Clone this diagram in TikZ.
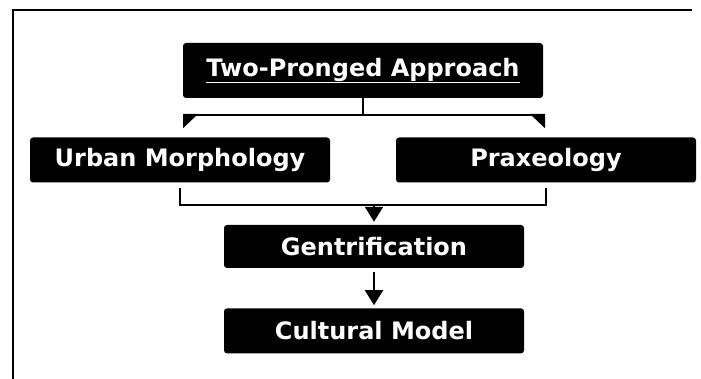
\documentclass[tikz,border=0pt]{standalone}
\usepackage{fontspec}
\setmainfont{DejaVu Sans}
\usepackage{tikz}
\usetikzlibrary{positioning,arrows.meta,calc}

\begin{document}
\begin{tikzpicture}[
  x=1pt, y=-1pt, node distance=40pt,
  font=\bfseries\fontsize{24}{28}\selectfont,
  box/.style={fill=black, text=white, rounded corners=3pt,
              minimum width=300pt, minimum height=45pt, inner sep=0pt},
  link/.style={line width=2pt, color=black},
  arr/.style={link, -{Triangle[width=18pt,length=15pt]}},
  fork/.style={link, {Triangle[reversed,harpoon,width=26pt,length=14pt]}-{Triangle[reversed,harpoon,swap,width=26pt,length=14pt]}},
]
\useasboundingbox (0,0) rectangle (701,379);
% frame, only top and left edges remain
\draw[line width=1.5pt] (13,379) -- (13,10) -- (692,10);

\node[box, minimum width=360pt, minimum height=55pt] (app) at (363,70.5)
  {\underline{Two-Pronged Approach}};
\node[box] (urban) at (180,160) {Urban Morphology};
\node[box] (prax) at (546,160) {Praxeology};
\node[box, minimum height=43pt] (gent) at (374,246.5) {Gentrification};
\node[box, below=40pt of gent] (cult) {Cultural Model};

% split into the two prongs
\coordinate (split) at ($(app.south)+(0,17)$);
\coordinate (forkL) at (183,115);
\coordinate (forkR) at (545,115);
\draw[link] (app.south) -- (split);
\draw[fork] (forkL) -- (forkR);
% merge back into one
\coordinate (mbar) at ($(urban.south)+(0,22)$);
\draw[link] ([yshift=-5pt]urban.south) |- (mbar -| prax.south) -- ([yshift=-5pt]prax.south);
\draw[arr] (mbar -| gent.north) -- ([yshift=3pt]gent.north);
\draw[arr] ([yshift=-4pt]gent.south) -- ([yshift=3pt]cult.north);
\end{tikzpicture}
\end{document}
